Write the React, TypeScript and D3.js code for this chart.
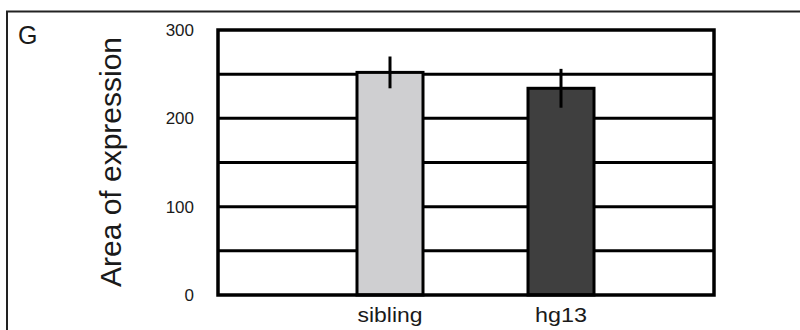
import { useRef, useEffect } from 'react';
import * as d3 from 'd3';

const categories = ['sibling', 'hg13'];
const means = [252, 234];
const errors = [18, 22];
const barColors = ['#cfcfd1', '#3f3f3f'];
const labelTicks = [0, 100, 200, 300];
const panelLetter = 'G';
const yTitle = 'Area of expression';

export default function App() {
  const svgRef = useRef<SVGSVGElement>(null);

  useEffect(() => {
    if (!svgRef.current) return;
    const width = 800;
    const height = 330;
    const plot = { left: 218, right: 714, top: 30, bottom: 295 };
    const font = '"Liberation Sans", Arial, sans-serif';
    const ink = '#1a1a1a';

    const svg = d3.select(svgRef.current);
    svg.selectAll('*').remove();
    svg.attr('width', width).attr('height', height);

    svg.append('rect')
      .attr('width', width).attr('height', height)
      .attr('fill', '#fff');

    // outer panel frame
    svg.append('path')
      .attr('d', `M7,${height + 5}V11.5H${width + 5}`)
      .attr('fill', 'none')
      .attr('stroke', '#222')
      .attr('stroke-width', 2);

    const y = d3.scaleLinear()
      .domain([0, 300])
      .range([plot.bottom, plot.top]);

    const x = d3.scaleBand()
      .domain(categories)
      .range([304.5, 646.5])
      .paddingInner(0.614)
      .paddingOuter(0.307);

    const data = categories.map((c, i) => ({ c, mean: means[i], err: errors[i], color: barColors[i] }));

    // Gridlines every 50
    svg.selectAll('line.grid')
      .data(y.ticks(6).filter(v => v > 0 && v < 300))
      .join('line')
      .attr('class', 'grid')
      .attr('x1', plot.left)
      .attr('x2', plot.right)
      .attr('y1', d => y(d))
      .attr('y2', d => y(d))
      .attr('stroke', '#000')
      .attr('stroke-width', 3);

    // Bars
    svg.selectAll('rect.bar')
      .data(data)
      .join('rect')
      .attr('class', 'bar')
      .attr('x', d => x(d.c)!)
      .attr('y', d => y(d.mean))
      .attr('width', x.bandwidth())
      .attr('height', d => y(0) - y(d.mean))
      .attr('fill', d => d.color)
      .attr('stroke', '#000')
      .attr('stroke-width', 3);

    // Error bars (no caps)
    svg.selectAll('line.err')
      .data(data)
      .join('line')
      .attr('class', 'err')
      .attr('x1', d => x(d.c)! + x.bandwidth() / 2)
      .attr('x2', d => x(d.c)! + x.bandwidth() / 2)
      .attr('y1', d => y(d.mean + d.err))
      .attr('y2', d => y(d.mean - d.err))
      .attr('stroke', '#000')
      .attr('stroke-width', 3);

    // Plot border
    svg.append('rect')
      .attr('x', plot.left)
      .attr('y', plot.top)
      .attr('width', plot.right - plot.left)
      .attr('height', plot.bottom - plot.top)
      .attr('fill', 'none')
      .attr('stroke', '#000')
      .attr('stroke-width', 3.5);

    // Y tick labels
    svg.selectAll('text.tick')
      .data(labelTicks)
      .join('text')
      .attr('class', 'tick')
      .attr('x', 194)
      .attr('y', d => y(d))
      .attr('dy', '0.35em')
      .attr('text-anchor', 'end')
      .attr('font-family', font)
      .attr('font-size', '17px')
      .attr('fill', ink)
      .text(d => d);

    // Category labels
    const labelWidths: Record<string, number> = { sibling: 65, hg13: 52 };
    svg.selectAll('text.cat')
      .data(categories)
      .join('text')
      .attr('class', 'cat')
      .attr('x', d => x(d)! + x.bandwidth() / 2 - labelWidths[d] / 2)
      .attr('y', 322)
      .attr('font-family', font)
      .attr('font-size', '21px')
      .attr('fill', ink)
      .attr('textLength', d => labelWidths[d])
      .attr('lengthAdjust', 'spacingAndGlyphs')
      .text(d => d);

    // Y title
    svg.append('text')
      .attr('transform', `translate(121,287) rotate(-90)`)
      .attr('font-family', font)
      .attr('font-size', '29px')
      .attr('fill', ink)
      .attr('textLength', 250)
      .attr('lengthAdjust', 'spacingAndGlyphs')
      .text(yTitle);

    // Panel letter
    svg.append('text')
      .attr('x', 18)
      .attr('y', 44)
      .attr('font-family', font)
      .attr('font-size', '25px')
      .attr('fill', ink)
      .text(panelLetter);
  }, []);

  return <svg ref={svgRef} style={{ position: 'absolute', left: 0, top: 0, display: 'block' }} />;
}
